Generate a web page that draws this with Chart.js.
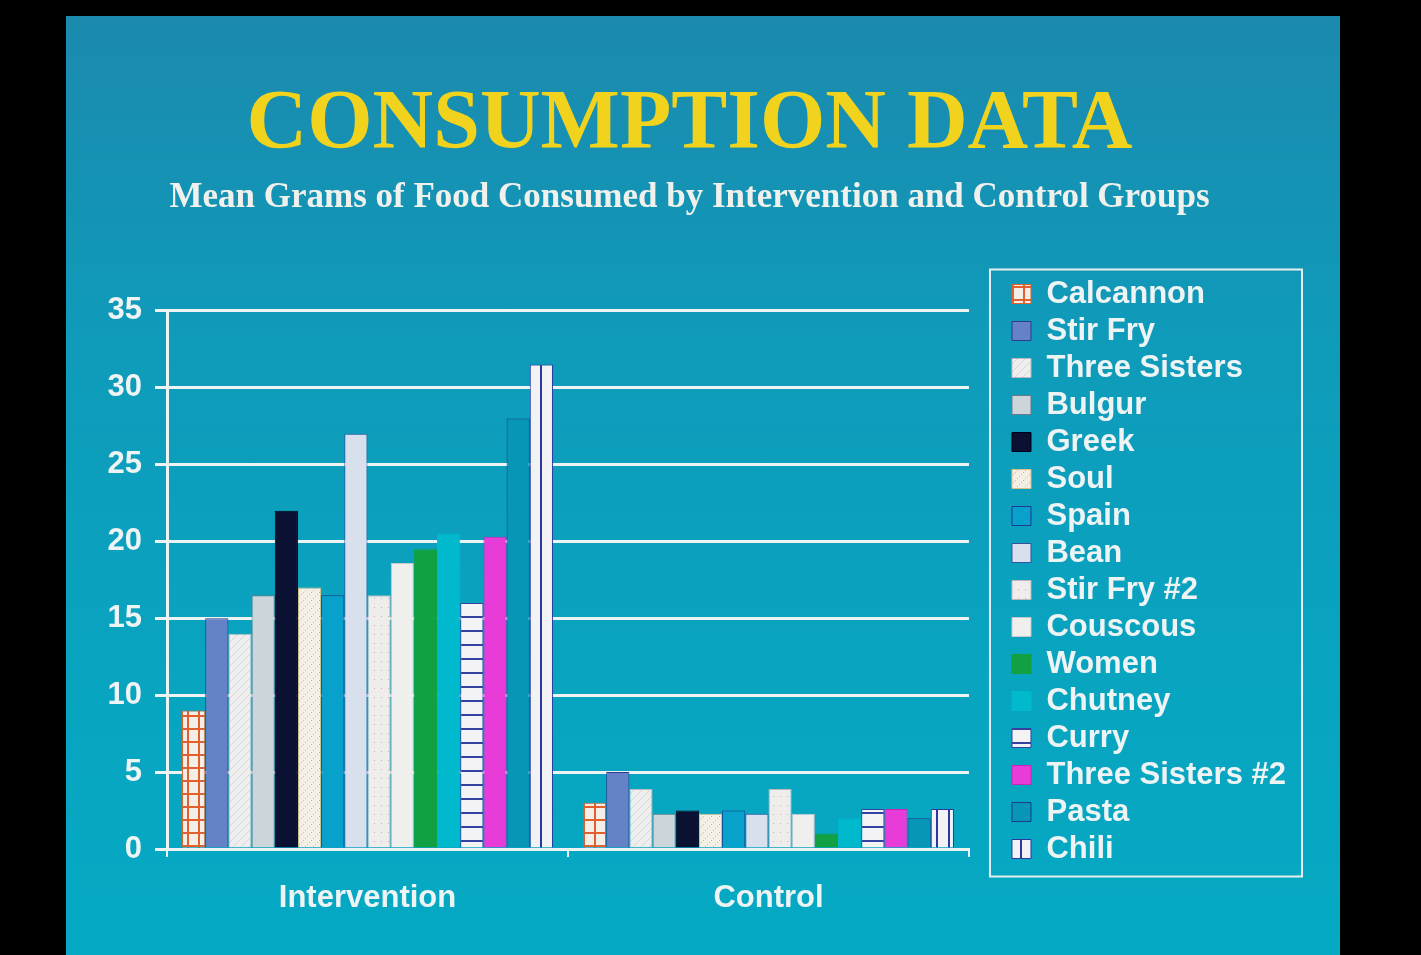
<!DOCTYPE html>
<html>
<head>
<meta charset="utf-8">
<script src="https://cdn.jsdelivr.net/npm/chart.js@4"></script>
<style>
  html, body { margin: 0; padding: 0; background: #000; }
  body { width: 1421px; height: 955px; position: relative; overflow: hidden; }
  #slide {
    position: absolute; left: 66px; top: 16px; width: 1274px; height: 939px;
    background: linear-gradient(180deg, #1b8aae 0%, #0f9bba 35%, #08a4c0 70%, #05a9c3 100%);
  }
  #chart { position: absolute; left: 0; top: 0; }
</style>
</head>
<body>
<div id="slide"></div>
<canvas id="chart" width="1421" height="955"></canvas>
<script>
// Consumption data
const groups = ['Intervention', 'Control'];
const foods = ['Calcannon', 'Stir Fry', 'Three Sisters', 'Bulgur', 'Greek', 'Soul', 'Spain', 'Bean',
  'Stir Fry #2', 'Couscous', 'Women', 'Chutney', 'Curry', 'Three Sisters #2', 'Pasta', 'Chili'];
const intervention = [9, 15, 14, 16.5, 22, 17, 16.5, 27, 16.5, 18.6, 19.5, 20.5, 16, 20.3, 28, 31.5];
const control = [3, 5, 3.9, 2.3, 2.5, 2.3, 2.5, 2.3, 3.9, 2.3, 1, 2, 2.6, 2.6, 2, 2.6];
const yMax = 35;
const yStep = 5;

function pattern(bg, w, h, draw) {
    const c = document.createElement('canvas');
    c.width = w; c.height = h;
    const x = c.getContext('2d');
    x.fillStyle = bg;
    x.fillRect(0, 0, w, h);
    if (draw) draw(x);
    return x.createPattern(c, 'repeat');
}

const fills = [
    pattern('#f3eee8', 11, 13, x => { x.fillStyle = '#e2602e'; x.fillRect(0, 0, 2, 13); x.fillRect(0, 0, 11, 2); }),
    '#6582c6',
    pattern('#eeeeee', 8, 8, x => { x.strokeStyle = '#d6d6d6'; x.lineWidth = 1; x.beginPath(); x.moveTo(0, 8); x.lineTo(8, 0); x.stroke(); }),
    '#ccd5d9',
    '#0b1132',
    pattern('#f4efe4', 8, 8, x => { x.fillStyle = '#e6bd6c'; x.fillRect(1, 6, 1, 1); x.fillRect(3, 4, 1, 1); x.fillRect(5, 2, 1, 1); x.fillRect(7, 0, 1, 1); }),
    '#07a1cb',
    '#d7e0ec',
    pattern('#efecec', 7, 9, x => { x.fillStyle = '#c9b2b2'; x.fillRect(3, 4, 1, 1); }),
    '#efefee',
    '#12a142',
    '#00b9cd',
    pattern('#f3f3f5', 4, 14, x => { x.fillStyle = '#3342a0'; x.fillRect(0, 0, 4, 2); }),
    '#e83cd8',
    '#0896b6',
    pattern('#f2f2f4', 12, 4, x => { x.fillStyle = '#2a38a0'; x.fillRect(0, 0, 2, 4); })
];
const borders = ['#e0602c', '#2b3b92', '#b9b9c2', '#6a7a8c', '#000018', '#dcc087', '#1b3a90', '#3553a2',
    '#c2b8b8', '#c8c8cc', '#12a142', '#00b9cd', '#3342a0', '#c428b8', '#1b3a90', '#2a38a0'];

const datasets = foods.map((name, i) => ({
    label: name,
    data: [intervention[i], control[i]],
    backgroundColor: fills[i],
    borderColor: borders[i],
    borderWidth: 1
}));

// draws the white frame round the legend
const legendFrame = {
    id: 'legendFrame',
    afterDraw(chart) {
        const lg = chart.legend;
        const hb = lg.legendHitBoxes;
        if (!hb || !hb.length) return;
        const last = hb[hb.length - 1];
        const top = hb[0].top - 9;
        const bottom = last.top + last.height + 12;
        const left = lg.left - 16;
        const right = lg.right + 6;
        const ctx = chart.ctx;
        ctx.save();
        ctx.strokeStyle = '#e8eff1';
        ctx.lineWidth = 2;
        ctx.strokeRect(left, top, right - left, bottom - top);
        ctx.restore();
    }
};

const white = '#eef3f4';
const labelFont = { family: '"Liberation Sans", Arial, sans-serif', size: 31, weight: 'bold' };

new Chart(document.getElementById('chart'), {
    type: 'bar',
    data: { labels: groups, datasets: datasets },
    options: {
        responsive: false,
        animation: false,
        layout: { padding: { left: 83, right: 125, top: 0, bottom: 36 } },
        datasets: { bar: { categoryPercentage: 0.925, barPercentage: 1 } },
        plugins: {
            title: {
                display: true,
                text: 'CONSUMPTION DATA',
                color: '#f1d31d',
                font: { family: '"Liberation Serif", "Times New Roman", serif', size: 84, weight: 'bold' },
                padding: { top: 76, bottom: 0 }
            },
            subtitle: {
                display: true,
                text: 'Mean Grams of Food Consumed by Intervention and Control Groups',
                color: '#f0f1ec',
                font: { family: '"Liberation Serif", "Times New Roman", serif', size: 35, weight: 'bold' },
                padding: { top: 0, bottom: 92 }
            },
            legend: {
                position: 'right',
                align: 'start',
                maxWidth: 320,
                // blank legend title only pushes the items down to where the slide has them
                title: { display: true, text: ' ', font: { size: 10, lineHeight: 1 }, padding: { top: 262.5, bottom: 0 } },
                labels: {
                    color: white,
                    font: labelFont,
                    boxWidth: 19,
                    boxHeight: 19,
                    padding: 6
                }
            },
            tooltip: { enabled: false }
        },
        scales: {
            x: {
                grid: { display: true, drawOnChartArea: false, drawTicks: true, tickLength: 8, color: white, lineWidth: 2 },
                border: { color: white, width: 3 },
                ticks: { color: white, font: labelFont, padding: 23 },
                afterFit: s => { s.height = 70; }
            },
            y: {
                min: 0,
                max: yMax,
                ticks: { stepSize: yStep, color: white, font: labelFont, padding: 13 },
                grid: { color: white, lineWidth: 3, tickLength: 12 },
                border: { color: white, width: 3 },
                afterFit: s => { s.width = 84; }
            },
            // empty axis, keeps the gap between plot and legend
            gap: {
                type: 'linear',
                position: 'right',
                grid: { display: false },
                border: { display: false },
                ticks: { display: false },
                afterFit: s => { s.width = 37; }
            }
        }
    },
    plugins: [legendFrame]
});
</script>
</body>
</html>
